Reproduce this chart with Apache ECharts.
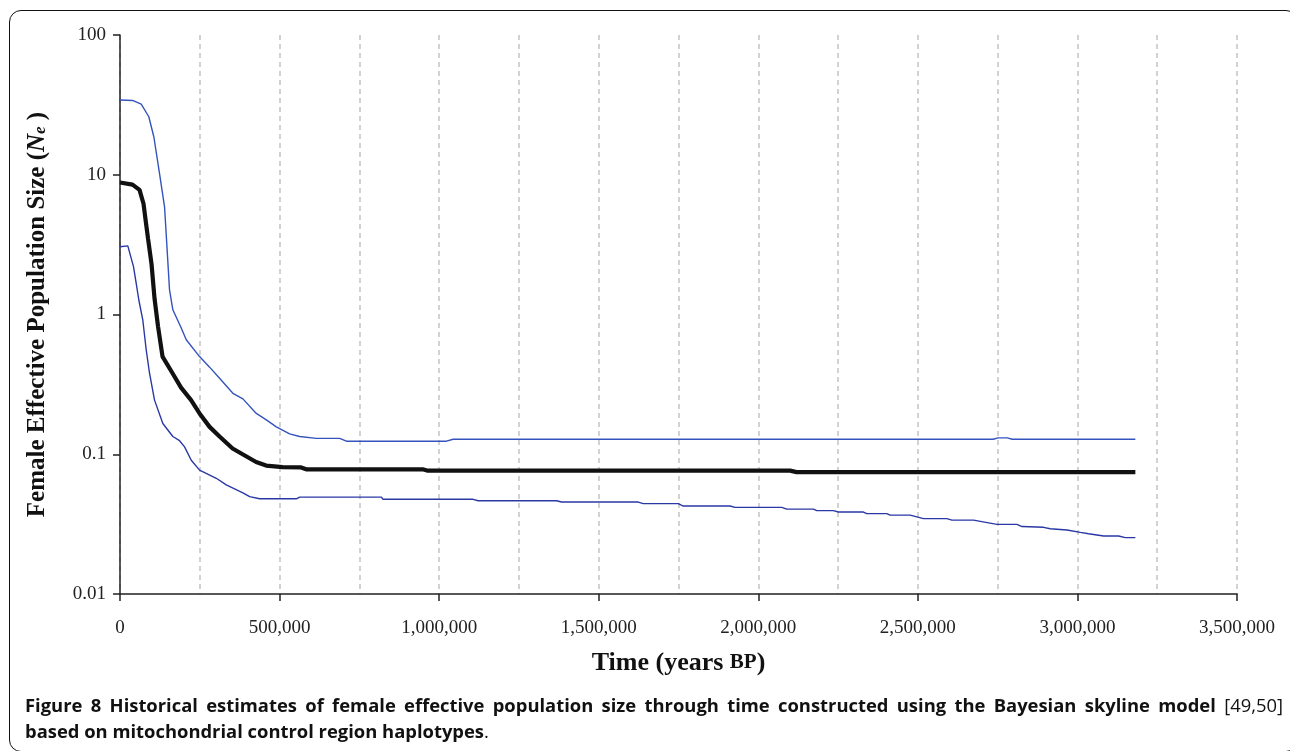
<!DOCTYPE html>
<html>
<head>
<meta charset="utf-8">
<script src="https://cdn.jsdelivr.net/npm/echarts@6/dist/echarts.min.js"></script>
<style>
  html, body { margin: 0; padding: 0; width: 1290px; height: 751px; overflow: hidden; background: #fff; }
  #frame { position: absolute; left: 9px; top: 10px; width: 1289px; height: 742px; border: 1.5px solid #111; border-radius: 12px; box-sizing: border-box; }
  #chart { position: absolute; left: 0; top: 0; width: 1290px; height: 751px; }
  .cap { position: absolute; left: 25px; width: 1258px; font-family: "Open Sans", sans-serif; font-size: 18.4px; line-height: 26px; color: #111; white-space: nowrap; }
  #cap1 { top: 692px; text-align: justify; text-align-last: justify; }
  #cap2 { top: 718px; }
  .cap b { font-weight: 700; }
</style>
</head>
<body>
<div id="frame"></div>
<div id="chart"></div>
<div class="cap" id="cap1"><b>Figure 8 Historical estimates of female effective population size through time constructed using the Bayesian skyline model</b> [49,50]</div>
<div class="cap" id="cap2"><b>based on mitochondrial control region haplotypes</b>.</div>
<script>
// Median estimate (thick black line)
const medianYears = [0, 39200, 61150, 73700, 81500, 87800, 98800, 108200, 119200, 133300, 164600, 191300, 222700, 249300, 280700, 312000, 352800, 384200, 426500, 457900, 509600, 567600, 583300, 948600, 964300, 2099600, 2119900, 3181500];
const medianNe = [8.8, 8.5, 7.8, 6.2, 4.5, 3.5, 2.3, 1.3, 0.82, 0.5, 0.38, 0.30, 0.244, 0.196, 0.157, 0.134, 0.110, 0.100, 0.088, 0.083, 0.081, 0.0805, 0.078, 0.078, 0.0763, 0.0763, 0.0745, 0.0745];

// Upper 95% HPD (blue)
const upperYears = [0, 39200, 66500, 90300, 106000, 123900, 139600, 155200, 165600, 191900, 207600, 249300, 280700, 312000, 353700, 385100, 427100, 458500, 489800, 531600, 562900, 615300, 688400, 709400, 1023000, 1043700, 2736200, 2751800, 2780100, 2795700, 3181500];
const upperNe = [34.3, 34, 32, 26, 18.7, 10.2, 5.9, 1.5, 1.08, 0.8, 0.66, 0.5, 0.42, 0.35, 0.273, 0.249, 0.196, 0.176, 0.157, 0.14, 0.134, 0.130, 0.130, 0.124, 0.124, 0.128, 0.128, 0.131, 0.131, 0.128, 0.128];

// Lower 95% HPD (blue)
const lowerYears = [0, 24500, 42300, 50800, 59000, 71500, 82200, 92500, 108200, 134200, 165600, 186600, 202300, 223300, 249300, 301700, 333000, 385100, 406100, 437500, 552600, 562900, 819100, 824100, 1106400, 1122100, 1367900, 1383600, 1623800, 1639500, 1749300, 1764900, 1911400, 1927100, 2073500, 2089200, 2172600, 2183300, 2235300, 2251000, 2329400, 2340100, 2402800, 2413200, 2475900, 2517600, 2591000, 2606600, 2674400, 2747800, 2810500, 2826200, 2893900, 2914900, 2967300, 3009000, 3035000, 3082100, 3129100, 3150100, 3181500];
const lowerNe = [3.05, 3.1, 2.2, 1.67, 1.27, 0.91, 0.557, 0.38, 0.244, 0.166, 0.134, 0.125, 0.113, 0.0906, 0.077, 0.0673, 0.0603, 0.053, 0.0497, 0.048, 0.048, 0.0493, 0.0493, 0.0476, 0.0476, 0.0465, 0.0465, 0.0455, 0.0455, 0.0443, 0.0443, 0.0426, 0.0426, 0.0417, 0.0417, 0.0405, 0.0405, 0.0395, 0.0395, 0.0386, 0.0386, 0.0376, 0.0376, 0.0367, 0.0367, 0.0346, 0.0346, 0.0338, 0.0338, 0.0315, 0.0315, 0.0304, 0.03, 0.0293, 0.0287, 0.0276, 0.027, 0.026, 0.026, 0.0253, 0.0253];

const yTickLabels = ['0.01', '0.1', '1', '10', '100'];
const xMax = 3500000;
const xStep = 500000;

function pairs(xs, ys) { return xs.map((x, i) => [x, ys[i]]); }

const chart = echarts.init(document.getElementById('chart'), null, { renderer: 'canvas' });
const serif = '"Liberation Serif", "Times New Roman", serif';
const dash = { color: '#c4c4c4', width: 1.5, type: [5, 4] };

chart.setOption({
  animation: false,
  backgroundColor: 'transparent',
  grid: { left: 120, top: 35, right: 53, bottom: 157, containLabel: false },
  xAxis: {
    type: 'value', min: 0, max: xMax, interval: xStep,
    name: '{a|Time (years }{b|BP}{a|)}',
    nameLocation: 'middle', nameGap: 56,
    nameTextStyle: { rich: {
      a: { fontFamily: serif, fontWeight: 'bold', fontSize: 26, color: '#111' },
      b: { fontFamily: serif, fontWeight: 'bold', fontSize: 21, color: '#111' }
    } },
    axisLine: { show: true, onZero: false, lineStyle: { color: '#222', width: 1.5 } },
    axisTick: { show: true, length: 7, lineStyle: { color: '#222', width: 1.5 } },
    minorTick: { show: false, splitNumber: 2 },
    splitLine: { show: true, lineStyle: dash },
    minorSplitLine: { show: true, lineStyle: dash },
    axisLabel: { fontFamily: serif, fontSize: 19, color: '#222', margin: 25,
      formatter: v => v.toLocaleString('en-US') }
  },
  yAxis: {
    type: 'log', logBase: 10, min: 0.01, max: 100,
    name: '{a|Female Effective Population Size (}{i|N}{s|e}{a| )}',
    nameLocation: 'middle', nameGap: 70, nameRotate: 90,
    nameTextStyle: { rich: {
      a: { fontFamily: serif, fontWeight: 'bold', fontSize: 25, color: '#111' },
      i: { fontFamily: serif, fontWeight: 'bold', fontStyle: 'italic', fontSize: 25, color: '#111' },
      s: { fontFamily: serif, fontWeight: 'bold', fontStyle: 'italic', fontSize: 17, color: '#111', padding: [7, 0, 0, 0] }
    } },
    axisLine: { show: true, lineStyle: { color: '#222', width: 1.5 } },
    axisTick: { show: true, length: 7, lineStyle: { color: '#222', width: 1.5 } },
    splitLine: { show: false },
    axisLabel: { fontFamily: serif, fontSize: 19, color: '#222', margin: 14,
      formatter: v => yTickLabels[Math.round(Math.log10(v)) + 2] }
  },
  series: [
    { type: 'line', data: pairs(upperYears, upperNe), showSymbol: false, lineStyle: { color: '#3553bd', width: 1.4 }, z: 2 },
    { type: 'line', data: pairs(lowerYears, lowerNe), showSymbol: false, lineStyle: { color: '#2a38a6', width: 1.4 }, z: 2 },
    { type: 'line', data: pairs(medianYears, medianNe), showSymbol: false, lineStyle: { color: '#111', width: 4.2 }, z: 3 }
  ]
});
</script>
</body>
</html>
